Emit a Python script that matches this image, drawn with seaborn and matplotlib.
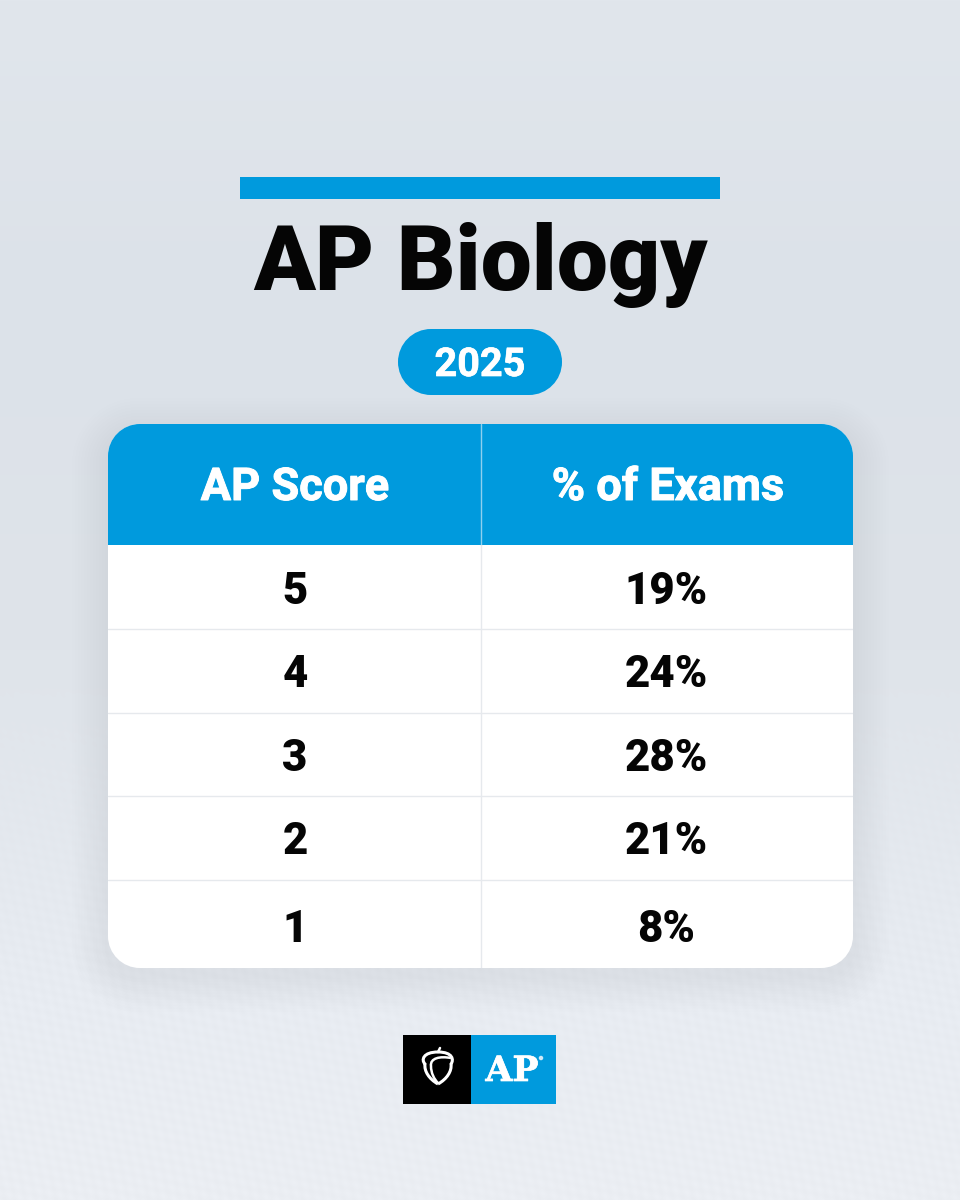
import numpy as np
import pandas as pd
import seaborn as sns
import matplotlib
matplotlib.use("Agg")
import matplotlib.pyplot as plt
import matplotlib.patheffects as pe
from matplotlib.patches import Rectangle, Ellipse, PathPatch
from matplotlib.path import Path

title = "AP Biology"
year = "2025"
headers = ["AP Score", "% of Exams"]
scores = [5, 4, 3, 2, 1]
percents = [19, 24, 28, 21, 8]

BLUE = "#009ADD"
FONT = ["Roboto", "DejaVu Sans"]

sns.set_theme(style="white")
plt.rcParams["font.family"] = FONT

W, H = 960, 1200
fig = plt.figure(figsize=(W / 100, H / 100), dpi=100)


def rounded(x0, y0, x1, y1, r):
    k = 0.5523 * r
    v = [(x0 + r, y0), (x1 - r, y0), (x1 - r + k, y0), (x1, y0 + r - k), (x1, y0 + r),
         (x1, y1 - r), (x1, y1 - r + k), (x1 - r + k, y1), (x1 - r, y1),
         (x0 + r, y1), (x0 + r - k, y1), (x0, y1 - r + k), (x0, y1 - r),
         (x0, y0 + r), (x0, y0 + r - k), (x0 + r - k, y0), (x0 + r, y0)]
    c = [1, 2, 4, 4, 4, 2, 4, 4, 4, 2, 4, 4, 4, 2, 4, 4, 4]
    return Path(v, c)


# pixel-space canvas
bg = fig.add_axes([0, 0, 1, 1], zorder=0)
bg.axis("off")

ys = np.arange(H)
stops_y = [0, 300, 650, 1000, 1200]
stops = np.array([[225, 230, 236], [220, 226, 233], [223, 228, 234], [232, 236, 242], [235, 238, 243]]) / 255
base = np.stack([np.interp(ys, stops_y, stops[:, i]) for i in range(3)], axis=1)[:, None, :]
base = np.repeat(base, W, axis=1)
xx, yy = np.meshgrid(np.arange(W), ys)
weave = np.sin((xx + yy) * 2 * np.pi / 26) * np.sin((xx - yy) * 2 * np.pi / 17)
fade = np.clip((yy - 680) / 300, 0, 1)
img = base + (weave * fade * 0.006)[:, :, None]
bg.imshow(np.clip(img, 0, 1), extent=[0, W, H, 0], aspect="auto", zorder=0)
bg.set_xlim(0, W)
bg.set_ylim(H, 0)

tx0, tx1, ty0, ty1, ty_head = 108, 853, 424, 968, 545

# soft shadow under the table
for grow, a in zip(np.arange(36, 0, -3), np.linspace(0.002, 0.008, 12)):
    bg.add_patch(PathPatch(rounded(tx0 - grow, ty0 - grow + 10, tx1 + grow, ty1 + grow + 8, 30 + grow),
                           fc="#6b7a90", ec="none", alpha=a, zorder=1))

# top rule, title, year pill
bg.add_patch(Rectangle((240, 177), 480, 22, fc=BLUE, ec="none", zorder=2))
bg.text(480, 265, title, ha="center", va="center", fontsize=65.5, fontweight="black",
        color="#050505", zorder=3)
bg.add_patch(PathPatch(rounded(398, 329, 562, 395, 33), fc=BLUE, ec="none", zorder=2))
bg.text(480, 365, year, ha="center", va="center", fontsize=28.5, fontweight="bold",
        color="white", zorder=3,
        path_effects=[pe.withStroke(linewidth=0.5, foreground="white")])

# table shape
card = PathPatch(rounded(tx0, ty0, tx1, ty1, 32), fc="white", ec="none", zorder=2)
bg.add_patch(card)
head = bg.add_patch(Rectangle((tx0, ty0), tx1 - tx0, ty_head - ty0, fc=BLUE, ec="none", zorder=3))
head.set_clip_path(card.get_path(), card.get_transform())
for x, label in zip([295, 668], headers):
    bg.text(x, 488, label, ha="center", va="center", fontsize=32.5, fontweight="bold",
            color="white", zorder=4,
            path_effects=[pe.withStroke(linewidth=0.7, foreground="white")])
bg.plot([480.5, 480.5], [ty0, ty_head], color="#8fd0ee", lw=1.0, zorder=4)

# table body through seaborn
ax = fig.add_axes([tx0 / W, 1 - ty1 / H, (tx1 - tx0) / W, (ty1 - ty_head) / H], zorder=1)
ax.patch.set_alpha(0)
df = pd.DataFrame({"score": scores, "pct": percents})
labels = np.array([[str(s), f"{p}%"] for s, p in zip(scores, percents)])
sns.heatmap(df.astype(float), ax=ax, cmap=["#ffffff"], cbar=False, annot=labels, fmt="",
            annot_kws={"fontsize": 31.5, "fontweight": "black", "color": "#050505"},
            xticklabels=False, yticklabels=False)
ax.collections[0].set_visible(False)


def row(px):
    return (px - ty_head) / (ty1 - ty_head) * 5


text_y = [592, 675, 759, 842, 930]
text_x = [295, 666]
for i, txt in enumerate(ax.texts):
    r, c = divmod(i, 2)
    txt.set_y(row(text_y[r]))
    txt.set_x((text_x[c] - tx0) / (tx1 - tx0) * 2)
    txt.set_zorder(5)
for yp in [629.5, 713, 796, 880]:
    ax.axhline(row(yp), color="#e6e9ed", lw=1.0, zorder=4)
ax.axvline((480.5 - tx0) / (tx1 - tx0) * 2, color="#e6e9ed", lw=1.0, zorder=4)

# logo
bg.add_patch(Rectangle((403, 1035), 68, 69, fc="#000000", ec="none", zorder=3))
bg.add_patch(Rectangle((471, 1035), 85, 69, fc=BLUE, ec="none", zorder=3))
acorn = Path([(438, 1084), (429, 1079), (424, 1071), (425, 1064),
              (421, 1060), (423, 1052), (438, 1052),
              (453, 1052), (454, 1060), (451, 1064),
              (452, 1071), (447, 1079), (438, 1084)],
             [1, 4, 4, 4, 4, 4, 4, 4, 4, 4, 4, 4, 4])
bg.add_patch(PathPatch(acorn, fc="none", ec="white", lw=2.2, zorder=4))
swoosh = Path([(451, 1058), (440, 1056), (430, 1058), (431, 1066), (431, 1073), (434, 1079), (438, 1083)],
              [1, 4, 4, 4, 4, 4, 4])
bg.add_patch(PathPatch(swoosh, fc="none", ec="white", lw=1.8, zorder=4))
bg.plot([438, 440], [1052, 1048], color="white", lw=1.8, zorder=4)
bg.text(512, 1071, "AP", ha="center", va="center", fontsize=25, fontweight="bold",
        family=["DejaVu Serif"], color="white", zorder=4,
        path_effects=[pe.withStroke(linewidth=0.5, foreground="white")])
bg.add_patch(Ellipse((541, 1058), 4.5, 4.5, fc="#cfe9f7", ec="none", zorder=4))

fig.savefig("out.png", dpi=100)
